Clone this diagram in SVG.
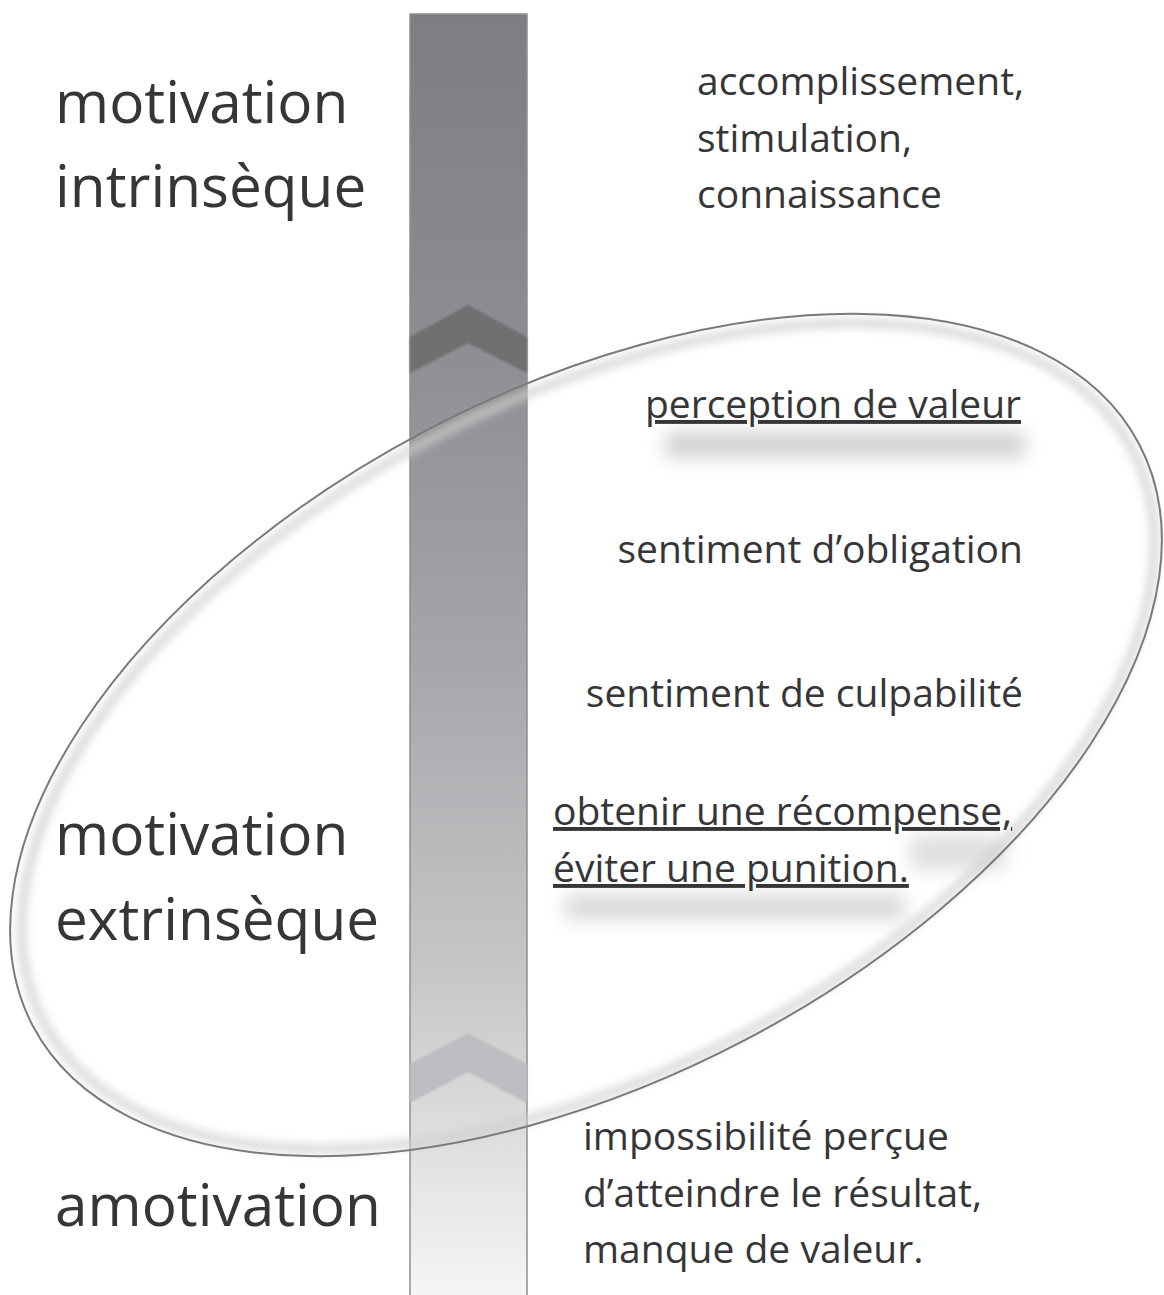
<svg xmlns="http://www.w3.org/2000/svg" width="1164" height="1295" viewBox="0 0 1164 1295">
<defs>
<linearGradient id="barGrad" x1="0" y1="0" x2="0" y2="1">
<stop offset="0" stop-color="#7d7e81"/>
<stop offset="0.25" stop-color="#8c8d90"/>
<stop offset="0.5" stop-color="#a5a6a9"/>
<stop offset="0.75" stop-color="#c6c7c9"/>
<stop offset="1" stop-color="#f6f6f7"/>
</linearGradient>
<filter id="blur4" x="-30%" y="-100%" width="160%" height="300%"><feGaussianBlur stdDeviation="9"/></filter>
<filter id="blurE" x="-10%" y="-10%" width="120%" height="120%"><feGaussianBlur stdDeviation="5"/></filter>
<filter id="soft" x="-10%" y="-10%" width="120%" height="120%"><feGaussianBlur stdDeviation="1"/></filter>
</defs>
<style>
.big{font-family:"Open Sans","Noto Sans",sans-serif;font-size:58.5px;fill:#363638}
.sm{font-family:"Open Sans","Noto Sans",sans-serif;font-size:39px;fill:#363638}
.end{text-anchor:end}
.ul{text-decoration:underline}
</style>
<rect width="1164" height="1295" fill="#ffffff"/>
<g id="bar">
<rect x="410" y="14" width="117" height="1285" fill="url(#barGrad)" stroke="#8d8e91" stroke-width="1.5"/>
<polygon points="410,337 468,305 527,337 527,373 468,343 410,373" fill="#6e6f72" filter="url(#soft)"/>
<polygon points="410,1064 468,1033 527,1064 527,1103 468,1072 410,1103" fill="#bdbec1" filter="url(#soft)"/>
</g>
<g id="shadows">
<rect x="665" y="432" width="360" height="26" fill="#d2d2d4" filter="url(#blur4)"/>
<rect x="565" y="894" width="340" height="26" fill="#dadadc" filter="url(#blur4)"/>
<rect x="910" y="835" width="95" height="35" fill="#e0e0e2" filter="url(#blur4)"/>
</g>
<g id="ellipse">
<ellipse cx="588" cy="736" rx="615" ry="336" transform="rotate(-27.75 588 736)" fill="none" stroke="#cfcfd1" stroke-width="7" filter="url(#blurE)"/>
<ellipse cx="586" cy="735" rx="625" ry="344" transform="rotate(-27.75 586 735)" fill="none" stroke="#7a7a7c" stroke-width="2"/>
</g>
<g id="intrinseque">
<text class="big" x="55" y="123">motivation</text>
<text class="big" x="55" y="207">intrinsèque</text>
<text class="sm" x="697" y="95">accomplissement,</text>
<text class="sm" x="697" y="152">stimulation,</text>
<text class="sm" x="697" y="208">connaissance</text>
</g>
<g id="extrinseque">
<text class="sm end ul" x="1021" y="418">perception de valeur</text>
<text class="sm end" x="1023" y="563">sentiment d’obligation</text>
<text class="sm end" x="1023" y="707">sentiment de culpabilité</text>
<text class="sm ul" x="553" y="825">obtenir une récompense,</text>
<text class="sm ul" x="553" y="882">éviter une punition.</text>
<text class="big" x="55" y="855">motivation</text>
<text class="big" x="55" y="940">extrinsèque</text>
</g>
<g id="amotivation">
<text class="big" x="55" y="1226">amotivation</text>
<text class="sm" x="583" y="1150">impossibilité perçue</text>
<text class="sm" x="583" y="1207">d’atteindre le résultat,</text>
<text class="sm" x="583" y="1263">manque de valeur.</text>
</g>
</svg>
